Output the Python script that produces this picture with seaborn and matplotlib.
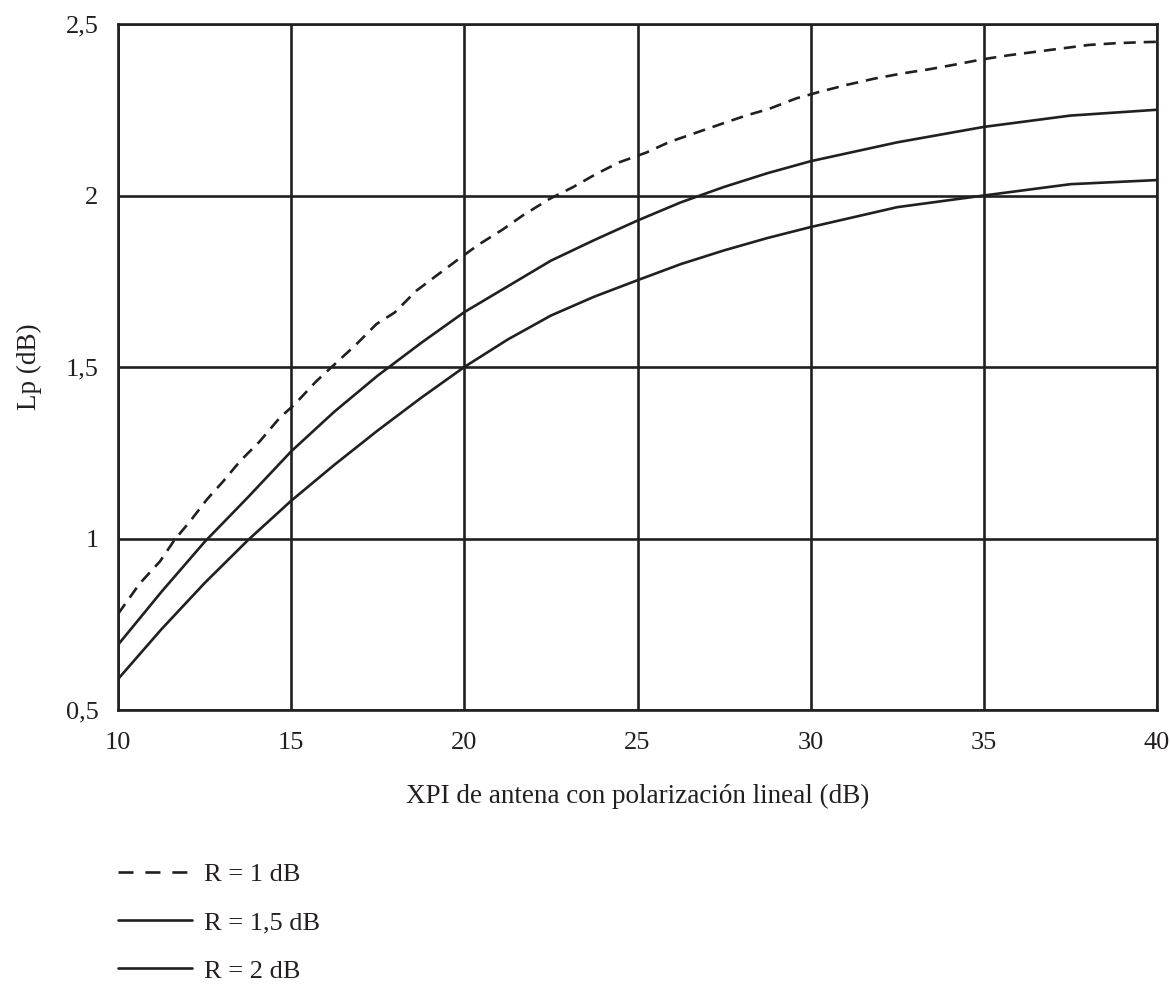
import matplotlib
matplotlib.use("Agg")
import matplotlib.pyplot as plt
from matplotlib.lines import Line2D
import seaborn as sns
import pandas as pd

# ---- data ----
x_r1 = [10.0, 10.63, 11.21, 11.64, 12.08, 12.56, 13.04, 13.52, 14.1, 14.67, 15.1,
        15.73, 16.31, 16.88, 17.46, 17.99, 18.61, 19.19, 19.8, 20.4, 21.11, 21.69,
        22.46, 23.13, 23.81, 24.48, 25.25, 25.92, 26.69, 27.46, 28.1, 28.81, 29.58,
        30.25, 31.02, 31.85, 32.65, 33.42, 34.24, 34.96, 35.73, 36.5, 37.27, 38.04,
        38.81, 39.58, 40.0]
y_r1 = [0.78, 0.869, 0.933, 0.997, 1.05, 1.113, 1.167, 1.225, 1.284, 1.352, 1.391,
        1.459, 1.513, 1.566, 1.625, 1.659, 1.722, 1.766, 1.812, 1.856, 1.901, 1.942,
        1.99, 2.024, 2.063, 2.097, 2.125, 2.156, 2.183, 2.21, 2.232, 2.253, 2.283,
        2.302, 2.322, 2.341, 2.356, 2.368, 2.383, 2.397, 2.409, 2.419, 2.429, 2.439,
        2.444, 2.447, 2.448]

x_r15 = [10, 11.25, 12.5, 13.75, 15, 16.25, 17.5, 18.75, 20, 21.25, 22.5, 23.75,
         25, 26.25, 27.5, 28.75, 30, 32.5, 35, 37.5, 40]
y_r15 = [0.69, 0.844, 0.99, 1.12, 1.254, 1.37, 1.475, 1.57, 1.66, 1.735, 1.81, 1.87,
         1.927, 1.98, 2.025, 2.065, 2.1, 2.155, 2.2, 2.233, 2.25]

x_r2 = [10, 11.25, 12.5, 13.75, 15, 16.25, 17.5, 18.75, 20, 21.25, 22.5, 23.75,
        25, 26.25, 27.5, 28.75, 30, 32.5, 35, 37.5, 40]
y_r2 = [0.59, 0.735, 0.87, 0.995, 1.11, 1.215, 1.315, 1.41, 1.5, 1.58, 1.65, 1.705,
        1.753, 1.80, 1.84, 1.876, 1.908, 1.966, 2.0, 2.033, 2.045]

labels = ["R = 1 dB", "R = 1,5 dB", "R = 2 dB"]
x_ticks = [10, 15, 20, 25, 30, 35, 40]
y_ticks = [0.5, 1.0, 1.5, 2.0, 2.5]
y_ticklabels = ["0,5", "1", "1,5", "2", "2,5"]
x_label = "XPI de antena con polarización lineal (dB)"
y_label = "Lp (dB)"

# ---- style ----
sns.set_style("white")
plt.rcParams['font.family'] = ['Liberation Serif', 'DejaVu Serif']
ink = "#231f20"
lw = 1.9
fs = 19
fs_lab = 19.5

fig = plt.figure(figsize=(11.7, 9.84), dpi=100)
ax = fig.add_axes([118/1170, 1-710/984, 1039/1170, 686/984])

df1 = pd.DataFrame({"x": x_r1, "y": y_r1})
df15 = pd.DataFrame({"x": x_r15, "y": y_r15})
df2 = pd.DataFrame({"x": x_r2, "y": y_r2})

sns.lineplot(data=df1, x="x", y="y", ax=ax, color=ink, lw=lw,
             linestyle=(0, (4.6, 3.0)), sort=False)
sns.lineplot(data=df15, x="x", y="y", ax=ax, color=ink, lw=lw, sort=False)
sns.lineplot(data=df2, x="x", y="y", ax=ax, color=ink, lw=lw, sort=False)

ax.set_xlim(10, 40)
ax.set_ylim(0.5, 2.5)
ax.set_xticks(x_ticks)
ax.set_xticklabels([str(t) for t in x_ticks])
ax.set_yticks(y_ticks)
ax.set_yticklabels(y_ticklabels)
ax.tick_params(axis='both', length=0, labelsize=fs, colors=ink)
ax.tick_params(axis='x', pad=15.5)
ax.tick_params(axis='y', pad=14)
ax.grid(True, color=ink, lw=lw)
for s in ax.spines.values():
    s.set_color(ink)
    s.set_linewidth(lw)
ax.set_xlabel(x_label, fontsize=fs_lab, color=ink, labelpad=22)
ax.set_ylabel(y_label, fontsize=fs_lab, color=ink, labelpad=17)

handles = [
    Line2D([], [], color=ink, lw=lw, linestyle=(0, (5.7, 4.5))),
    Line2D([], [], color=ink, lw=lw),
    Line2D([], [], color=ink, lw=lw),
]
fig.legend(handles, labels, loc="upper left",
           bbox_to_anchor=(118/1170, 1-863/984), frameon=False,
           fontsize=fs, handlelength=2.8, handletextpad=0.45,
           labelspacing=0.93, borderpad=0, borderaxespad=0,
           labelcolor=ink)

fig.savefig("out.png", dpi=100, facecolor="white")
